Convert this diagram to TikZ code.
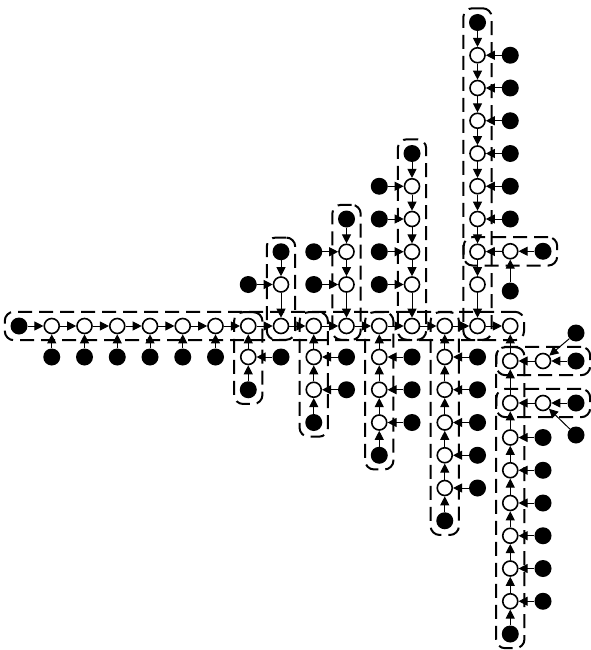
\documentclass[tikz,border=0pt]{standalone}
\usetikzlibrary{arrows.meta,fit}
\begin{document}
\begin{tikzpicture}[x=1pt, y=-1pt,
  wht/.style={circle, draw, line width=1.6pt, fill=white, minimum size=15pt, inner sep=0pt},
  blk/.style={circle, fill=black, minimum size=17pt, inner sep=0pt},
  arr/.style={-{Triangle[length=9pt,width=9pt]}, line width=1pt},
  pathbox/.style={draw, dash pattern=on 14pt off 7pt, line width=2pt,
                  rounded corners=9pt, inner sep=5.5pt}]
\useasboundingbox (0,0) rectangle (591,650);
\node[blk] (m0) at (19,326) {};
\foreach \i in {1,...,15} \node[wht] (m\i) at ({19+32.75*\i},326) {};
\foreach \i [remember=\i as \j (initially 0)] in {1,...,15} \draw[arr] (m\j) -- (m\i);
\foreach \i in {1,...,6} {
  \node[blk] (b\i) at ({19+32.75*\i},357) {};
  \draw[arr] (b\i) -- (m\i);
}
\node[pathbox, fit=(m0)(m15)] {};
\foreach \c/\n in {8/1,10/2,12/4,14/8} {
  \pgfmathtruncatemacro\t{\n+1}
  \foreach \k in {1,...,\n}
    \node[wht] (u\c-\k) at ({19+32.75*\c},{317.25-32.75*\k}) {};
  \node[blk] (u\c-\t) at ({19+32.75*\c},{317.25-32.75*\t}) {};
  \draw[arr] (u\c-1) -- (m\c);
  \foreach \k [remember=\k as \p (initially 1)] in {2,...,\t}
    \draw[arr] (u\c-\k) -- (u\c-\p);
  \node[pathbox, fit=(m\c)(u\c-\t)] {};
}
\foreach \c/\n in {8/1,10/2,12/4} {
  \pgfmathtruncatemacro\s{\c-1}
  \foreach \k in {1,...,\n} {
    \node[blk] (l\c-\k) at ({19+32.75*\s},{317.25-32.75*\k}) {};
    \draw[arr] (l\c-\k) -- (u\c-\k);
  }
}
\foreach \k in {3,...,8} {
  \node[blk] (r14-\k) at ({19+32.75*15},{317.25-32.75*\k}) {};
  \draw[arr] (r14-\k) -- (u14-\k);
}
\foreach \c/\n in {7/1,9/2,11/3,13/5} {
  \pgfmathtruncatemacro\t{\n+1}
  \pgfmathtruncatemacro\s{\c+1}
  \foreach \k in {1,...,\n} {
    \node[wht] (d\c-\k) at ({19+32.75*\c},{324.25+32.75*\k}) {};
    \node[blk] (e\c-\k) at ({19+32.75*\s},{324.25+32.75*\k}) {};
    \draw[arr] (e\c-\k) -- (d\c-\k);
  }
  \node[blk] (d\c-\t) at ({19+32.75*\c},{324.25+32.75*\t}) {};
  \draw[arr] (d\c-1) -- (m\c);
  \foreach \k [remember=\k as \p (initially 1)] in {2,...,\t}
    \draw[arr] (d\c-\k) -- (d\c-\p);
  \node[pathbox, fit=(m\c)(d\c-\t)] {};
}
\node[wht] (d15-1) at (510.25,361) {};
\node[wht] (d15-2) at (510.25,403) {};
\foreach \k in {3,...,8} {
  \node[wht] (d15-\k) at (510.25,{437.5+32.75*(\k-3)}) {};
  \node[blk] (e15-\k) at (543,{437.5+32.75*(\k-3)}) {};
  \draw[arr] (e15-\k) -- (d15-\k);
}
\node[blk] (d15-9) at (510.25,634) {};
\draw[arr] (d15-1) -- (m15);
\foreach \k [remember=\k as \p (initially 1)] in {2,...,9}
  \draw[arr] (d15-\k) -- (d15-\p);
\node[pathbox, fit=(d15-1)(d15-9)] {};
\node[wht] (h14) at (510.25,251.25) {};
\node[blk] (h14r) at (543,251.25) {};
\node[blk] (h14b) at (510.25,291) {};
\draw[arr] (h14r) -- (h14); \draw[arr] (h14b) -- (h14); \draw[arr] (h14) -- (u14-2);
\node[pathbox, fit=(u14-2)(h14r)] {};
\node[wht] (g1) at (543,361) {};
\node[blk] (g1r) at (576,361) {};
\node[blk] (g1t) at (576,333) {};
\draw[arr] (g1r) -- (g1); \draw[arr] (g1t) -- (g1); \draw[arr] (g1) -- (d15-1);
\node[pathbox, fit=(d15-1)(g1r)] {};
\node[wht] (g2) at (543,403) {};
\node[blk] (g2r) at (576,403) {};
\node[blk] (g2b) at (576,435) {};
\draw[arr] (g2r) -- (g2); \draw[arr] (g2b) -- (g2); \draw[arr] (g2) -- (d15-2);
\node[pathbox, fit=(d15-2)(g2r)] {};
\end{tikzpicture}
\end{document}
